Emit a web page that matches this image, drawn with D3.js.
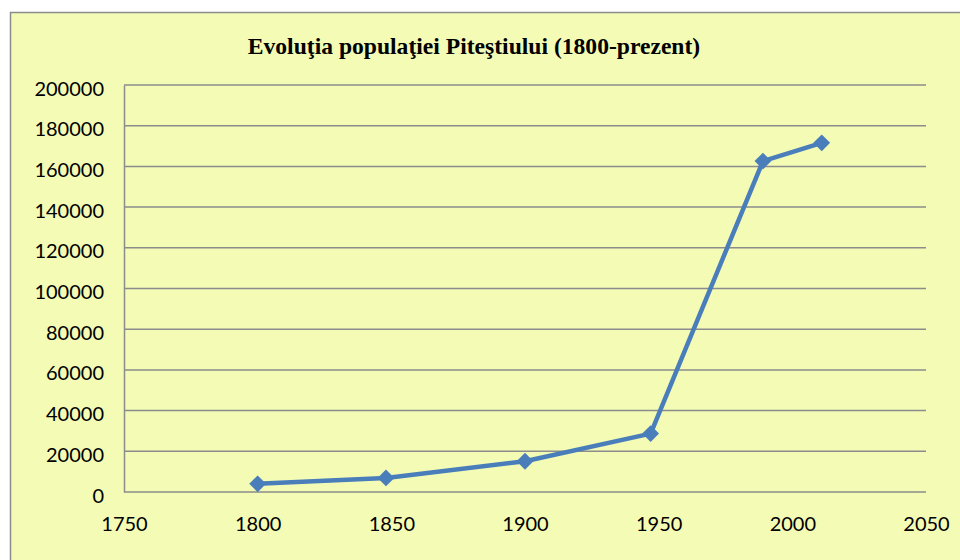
<!DOCTYPE html>
<html>
<head>
<meta charset="utf-8">
<script src="https://cdn.jsdelivr.net/npm/d3@7"></script>
<style>
  body { margin: 0; background: #fff; }
  .tick text { font-family: Lato, "Open Sans", sans-serif; font-size: 20px; fill: #000; }
</style>
</head>
<body>
<div class="main__area"></div>
<script>
const years=[1800, 1848, 1900, 1947, 1989, 2011];
const population=[4000, 6900, 15100, 28700, 162600, 171600];
const xTicks=[1750, 1800, 1850, 1900, 1950, 2000, 2050];
const yTicks=[0, 20000, 40000, 60000, 80000, 100000, 120000, 140000, 160000, 180000, 200000];
const title="Evoluţia populaţiei Piteştiului (1800-prezent)";

const width=960;
const height=560;
const plot={ left: 124, right: 926, top: 85, bottom: 492 };

const svg=d3.select(".main__area").append("svg")
    .attr("width", width)
    .attr("height", height);

// chart area
svg.append("rect")
    .attr("x", 10.5).attr("y", 12.5)
    .attr("width", width).attr("height", height)
    .attr("fill", "#F3FBB5")
    .attr("stroke", "#8C8C8C").attr("stroke-width", 1.5);

svg.append("text")
    .attr("x", 474).attr("y", 54)
    .attr("text-anchor", "middle")
    .attr("font-family", "'Liberation Serif', 'Times New Roman', serif")
    .attr("font-weight", "bold")
    .attr("font-size", 23.6)
    .text(title);

const x=d3.scaleLinear().domain([1750, 2050]).range([plot.left, plot.right]);
const y=d3.scaleLinear().domain([0, 200000]).range([plot.bottom, plot.top]);

// horizontal gridlines
svg.append("g")
    .selectAll("line")
    .data(yTicks)
    .join("line")
    .attr("x1", plot.left).attr("x2", plot.right)
    .attr("y1", d => y(d)).attr("y2", d => y(d))
    .attr("stroke", "#8C8C8C").attr("stroke-width", 1.5);

// y axis
const yAxis=svg.append("g")
    .attr("transform", `translate(${plot.left},0)`)
    .call(d3.axisLeft(y).tickValues(yTicks).tickFormat(d3.format("d")).tickSize(0).tickPadding(20));
yAxis.select(".domain").attr("stroke", "#8C8C8C").attr("stroke-width", 1.5);
yAxis.selectAll("text").attr("dy", "0.5em");

// x axis (labels only)
const xAxis=svg.append("g")
    .attr("transform", `translate(0,${plot.bottom})`)
    .call(d3.axisBottom(x).tickValues(xTicks).tickFormat(d3.format("d")).tickSize(0).tickPadding(25));
xAxis.select(".domain").remove();

const points=years.map((yr, i) => ({ year: yr, value: population[i] }));

svg.append("path")
    .datum(points)
    .attr("fill", "none")
    .attr("stroke", "#4A7EBB")
    .attr("stroke-width", 4.5)
    .attr("stroke-linejoin", "round")
    .attr("d", d3.line().x(d => x(d.year)).y(d => y(d.value)));

svg.append("g")
    .selectAll("path")
    .data(points)
    .join("path")
    .attr("transform", d => `translate(${x(d.year)},${y(d.value)})`)
    .attr("d", d3.symbol(d3.symbolDiamond2, 180))
    .attr("fill", "#4A7EBB");
</script>
</body>
</html>
